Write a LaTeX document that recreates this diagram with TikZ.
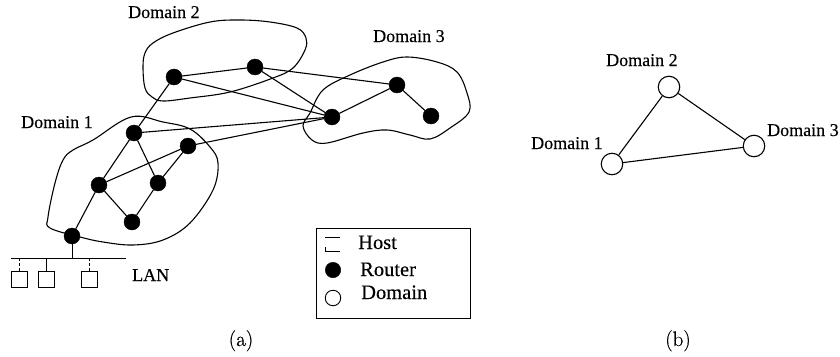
\documentclass[tikz,border=0pt]{standalone}
\usepackage{fontspec}
\newfontfamily\tms[FakeBold=0.25]{Liberation Serif}
\newfontfamily\capf[FakeBold=0.5]{Latin Modern Roman}
\begin{document}
\begin{tikzpicture}[x=1pt,y=-1pt,
  link/.style={line width=1.1pt,black},
  thinlink/.style={line width=0.8pt,black},
  blob/.style={line width=1.1pt,black,smooth cycle,tension=0.6},
  router/.style={circle,fill=black,draw=black,inner sep=0pt,minimum size=16pt},
  domainnode/.style={circle,fill=white,draw=black,line width=1.1pt,inner sep=0pt,minimum size=21.5pt},
  legdomain/.style={circle,fill=white,draw=black,line width=0.9pt,inner sep=0pt,minimum size=15.5pt},
  hostbox/.style={rectangle,draw=black,line width=0.8pt,inner sep=0pt,minimum size=16pt},
  lbl/.style={font=\tms\fontsize{18}{18}\selectfont,anchor=base west,inner sep=0pt},
  leglbl/.style={font=\tms\fontsize{20.5}{20.5}\selectfont,anchor=base west,inner sep=0pt},
  captext/.style={font=\capf\fontsize{21}{21}\selectfont,anchor=base,inner sep=0pt}]
\useasboundingbox (0,0) rectangle (840,356);
\draw[blob] plot coordinates {(131,117)(163,122)(190,129)(210,147)(218,163)(213,190)(190,223)(163,240)(133,245)(103,242)(80,237)(50,228)(48,217)(55,183)(63,160)(73,150)(93,140)};
\draw[blob] plot coordinates {(143,67)(145,53)(153,43)(173,33)(210,22)(240,20)(270,22)(297,28)(306,38)(305,50)(293,68)(273,78)(230,92)(190,98)(163,101)(152,97)(145,88)};
\draw[blob] plot coordinates {(303,126)(310,113)(323,90)(350,75)(383,62)(407,57)(437,62)(457,72)(467,93)(469,112)(450,128)(430,139)(410,135)(387,130)(363,133)(327,143)(312,140)};
\node[router] (a) at (174,77) {};
\node[router] (b) at (255,67) {};
\node[router] (c) at (134,133) {};
\node[router] (d) at (188,146) {};
\node[router] (e) at (332,117) {};
\node[router] (f) at (397,85) {};
\node[router] (g) at (431,116) {};
\node[router] (h) at (99,185) {};
\node[router] (i) at (158,183) {};
\node[router] (j) at (132,222) {};
\node[router] (k) at (72,236) {};
\foreach \p/\q in {a/b,a/e,b/e,b/f,a/c,c/e,d/e,e/f,f/g,c/h,c/i,d/h,d/i,h/k,h/j,i/j}
  \draw[link] (\p) -- (\q);
% LAN
\coordinate (lanl) at (11,258);
\coordinate (lanr) at (126,258);
\coordinate (lant) at (72,258);
\draw[thinlink] (lanl) -- (lanr);
\draw[thinlink] (k) -- (lant);
\node[hostbox] (h1) at (19,279) {};
\node[hostbox] (h2) at (46,279) {};
\node[hostbox] (h3) at (89,279) {};
\draw[thinlink,dash pattern=on 3pt off 2pt] (19,258) -- (h1.north);
\draw[thinlink] (46,258) -- (h2.north);
\draw[thinlink,dash pattern=on 3pt off 2pt] (89,258) -- (h3.north);
\node[lbl] (lan) at (132,281) {LAN};
\node[lbl] (d2) at (128,18) {Domain 2};
\node[lbl] (d1) at (21,128) {Domain 1};
\node[lbl] (d3) at (373,42) {Domain 3};
% legend
\draw[thinlink] (316,228) rectangle (470,318);
\draw[thinlink] (325,237) -- (340,237);
\draw[thinlink] (325,247) -- (325,251) -- (340,251);
\node[router,minimum size=15.5pt] (lr) at (333,270) {};
\node[legdomain] (ld) at (333,298) {};
\node[leglbl] (t1) at (358,249) {Host};
\node[leglbl] (t2) at (360,276) {Router};
\node[leglbl] (t3) at (361,299) {Domain};
% (b)
\node[domainnode] (n2) at (669,87) {};
\node[domainnode] (n1) at (612,164) {};
\node[domainnode] (n3) at (754,146) {};
\draw[link] (n1) -- (n2);
\draw[link] (n2) -- (n3);
\draw[link] (n1) -- (n3);
\node[lbl] (l1) at (531,149) {Domain 1};
\node[lbl] (l2) at (606,66) {Domain 2};
\node[lbl] (l3) at (767,136) {Domain 3};
\node[captext] (ca) at (241,346) {(a)};
\node[captext] (cb) at (678,346) {(b)};
\end{tikzpicture}
\end{document}
